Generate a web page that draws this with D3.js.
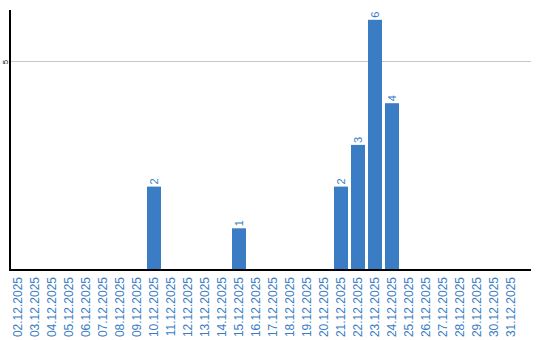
<!DOCTYPE html>
<html lang="en">
<head>
<meta charset="utf-8">
<title>Tickets per day</title>
<script src="https://d3js.org/d3.v7.min.js"></script>
<style>
  body { margin: 0; background: #fff; }
  svg { display: block; font-family: "Liberation Sans", Arial, sans-serif; }
</style>
</head>
<body>
<svg width="540" height="340"></svg>
<script>

// one entry per day, 02.12.2025 .. 31.12.2025
var days = [
  "02.12.2025", "03.12.2025", "04.12.2025", "05.12.2025", "06.12.2025",
  "07.12.2025", "08.12.2025", "09.12.2025", "10.12.2025", "11.12.2025",
  "12.12.2025", "13.12.2025", "14.12.2025", "15.12.2025", "16.12.2025",
  "17.12.2025", "18.12.2025", "19.12.2025", "20.12.2025", "21.12.2025",
  "22.12.2025", "23.12.2025", "24.12.2025", "25.12.2025", "26.12.2025",
  "27.12.2025", "28.12.2025", "29.12.2025", "30.12.2025", "31.12.2025"
]
var counts = [
  0, 0, 0, 0, 0, 0, 0, 0, 2, 0,
  0, 0, 0, 1, 0, 0, 0, 0, 0, 2,
  3, 6, 4, 0, 0, 0, 0, 0, 0, 0
]
var yTicks = [5]

var blue = "#3b7dc4"
var svg = d3.select("svg")

var x = d3.scaleBand()
  .domain(days)
  .range([9.5, 519.5])
  .paddingInner(3 / 17)
  .paddingOuter(3 / 34)

var y = d3.scaleLinear()
  .domain([0, 6.235])
  .range([270, 10])

// grid line
svg.append("g")
  .selectAll("line")
  .data(yTicks)
  .enter().append("line")
    .attr("x1", 10)
    .attr("x2", 531)
    .attr("y1", function (d) { return Math.round(y(d)) + 0.5 })
    .attr("y2", function (d) { return Math.round(y(d)) + 0.5 })
    .attr("stroke", "#c8c8c8")
    .attr("stroke-width", 1)

// bars
svg.append("g")
  .selectAll("rect")
  .data(days)
  .enter().append("rect")
    .filter(function (d, i) { return counts[i] > 0 })
    .attr("x", function (d) { return x(d) })
    .attr("width", x.bandwidth())
    .attr("y", function (d) { return y(counts[days.indexOf(d)]) })
    .attr("height", function (d) { return y(0) - y(counts[days.indexOf(d)]) })
    .attr("fill", blue)

// value labels, rotated like the axis labels
svg.append("g")
  .selectAll("text")
  .data(days.filter(function (d, i) { return counts[i] > 0 }))
  .enter().append("text")
    .attr("transform", function (d) {
      var cx = x(d) + x.bandwidth() / 2
      return "translate(" + cx + "," + (y(counts[days.indexOf(d)]) - 2) + ") rotate(-90)"
    })
    .attr("dy", "0.35em")
    .attr("font-size", 11)
    .attr("fill", blue)
    .text(function (d) { return counts[days.indexOf(d)] })

// x axis
var xAxis = svg.append("g")
  .attr("transform", "translate(0,270)")
  .call(d3.axisBottom(x).tickSize(0).tickPadding(0))
xAxis.select(".domain").remove()
xAxis.append("line")
  .attr("x1", 10).attr("x2", 531)
  .attr("y1", 0).attr("y2", 0)
  .attr("stroke", "#000").attr("stroke-width", 2)
xAxis.selectAll(".tick text")
  .attr("transform", "translate(0,7) rotate(-90)")
  .attr("text-anchor", "end")
  .attr("x", 0).attr("y", 0)
  .attr("dy", "0.35em")
  .attr("font-size", 12)
  .attr("font-family", "Liberation Sans, Arial, sans-serif")
  .attr("fill", blue)

// y axis
var yAxis = svg.append("g")
  .attr("transform", "translate(10,0)")
  .call(d3.axisLeft(y).tickValues(yTicks).tickFormat(d3.format("d")).tickSize(0).tickPadding(0))
yAxis.select(".domain").remove()
yAxis.append("line")
  .attr("x1", 0).attr("x2", 0)
  .attr("y1", 10).attr("y2", 271)
  .attr("stroke", "#000").attr("stroke-width", 2)
yAxis.selectAll(".tick text")
  .attr("transform", "translate(-5,0) rotate(-90)")
  .attr("text-anchor", "middle")
  .attr("x", 0).attr("y", 0)
  .attr("dy", "0.35em")
  .attr("font-size", 8)
  .attr("font-family", "Liberation Sans, Arial, sans-serif")
  .attr("fill", "#000")

</script>
</body>
</html>
